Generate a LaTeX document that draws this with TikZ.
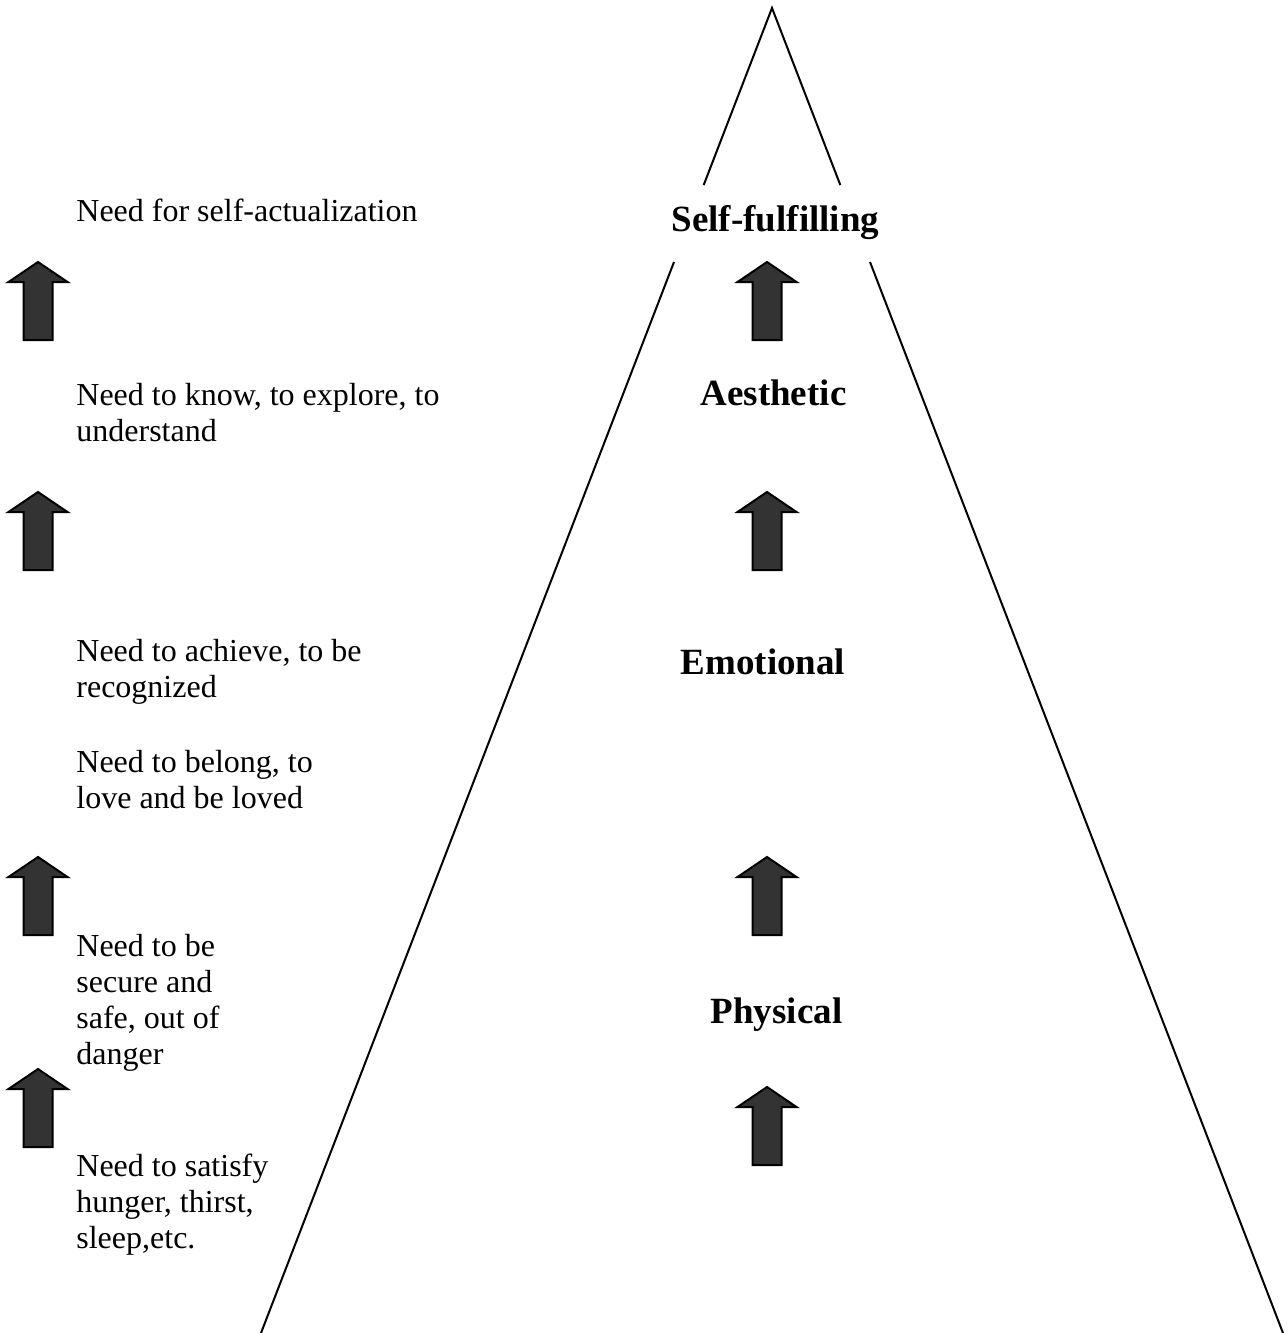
\documentclass[tikz,border=0pt]{standalone}
\usepackage{fontspec}
\setmainfont{Liberation Serif}
\begin{document}
\begin{tikzpicture}[x=0.5pt,y=-0.5pt,
  need/.style={anchor=base west,inner sep=0pt,align=left,font=\fontsize{16}{18}\selectfont},
  level/.style={anchor=base,inner sep=0pt,font=\fontsize{18.5}{21}\selectfont\bfseries},
  edge/.style={line width=1pt,black},
  uparrow/.pic={\draw[line width=1pt,line join=miter,fill={rgb,255:red,51;green,51;blue,51}]
     (0,0) -- (29.5,20) -- (14.5,20) -- (14.5,78) -- (-14.5,78) -- (-14.5,20) -- (-29.5,20) -- cycle;}
]
\useasboundingbox (0,0) rectangle (1287,1333);
% pyramid outline
\coordinate (apex) at (772,8);
\coordinate (lu) at (703.7,185);
\coordinate (ru) at (840.3,185);
\coordinate (ll) at (674,262);
\coordinate (rl) at (870,262);
\coordinate (lb) at (261,1333);
\coordinate (rb) at (1283,1333);
\draw[edge] (lu) -- (apex) -- (ru);
\draw[edge] (ll) -- (lb);
\draw[edge] (rl) -- (rb);
% left texts (anchor = baseline of the last line)
\node[need] (n1) at (76,221) {Need for self-actualization};
\node[need] (n2) at (76,441) {Need to know, to explore, to\\understand};
\node[need] (n3) at (76,697) {Need to achieve, to be\\recognized};
\node[need] (n4) at (76,808) {Need to belong, to\\love and be loved};
\node[need] (n5) at (76,1064) {Need to be\\secure and\\safe, out of\\danger};
\node[need] (n6) at (76,1248) {Need to satisfy\\hunger, thirst,\\sleep,etc.};
% levels
\node[level] (l1) at (775.5,231) {Self-fulfilling};
\node[level] (l2) at (773.5,405) {Aesthetic};
\node[level] (l3) at (763,674) {Emotional};
\node[level] (l4) at (776.5,1023) {Physical};
% arrows
\pic at (38,262) {uparrow};
\pic at (38,492) {uparrow};
\pic at (38,857) {uparrow};
\pic at (38,1069) {uparrow};
\pic at (767,262) {uparrow};
\pic at (767,492) {uparrow};
\pic at (767,857) {uparrow};
\pic at (767,1087) {uparrow};
\end{tikzpicture}
\end{document}
